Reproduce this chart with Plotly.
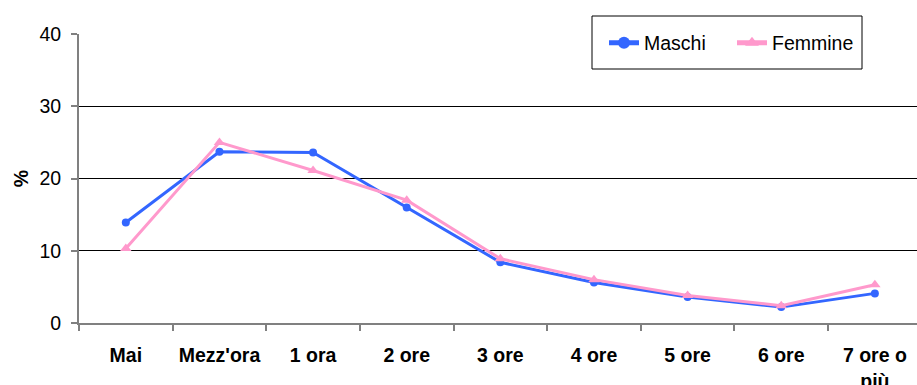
import plotly.graph_objects as go

categories = ["Mai", "Mezz'ora", "1 ora", "2 ore", "3 ore", "4 ore", "5 ore", "6 ore", "7 ore o<br>più"]
maschi = [13.9, 23.7, 23.6, 16.0, 8.4, 5.6, 3.6, 2.2, 4.1]
femmine = [10.3, 25.0, 21.1, 17.0, 8.9, 6.0, 3.8, 2.4, 5.3]
y_ticks = [0, 10, 20, 30, 40]

FONT = "Liberation Sans, Arial, sans-serif"
FS = 19.5

fig = go.Figure()
fig.add_trace(go.Scatter(
    x=categories, y=maschi, name="Maschi", mode="lines+markers",
    line=dict(color="#3366FF", width=3),
    marker=dict(symbol="circle", size=8, color="#3366FF"),
))
fig.add_trace(go.Scatter(
    x=categories, y=femmine, name="Femmine", mode="lines+markers",
    line=dict(color="#FF99CC", width=3),
    marker=dict(symbol="triangle-up", size=10, color="#FF99CC"),
))

L, T, B = 79, 34, 62
W, H = 917, 385
pw, ph = W - L, H - T - B

def px_to_paper_x(px):
    return (px - L) / pw

def px_to_paper_y(py):
    return (H - B - py) / ph

fig.add_shape(type="rect", xref="paper", yref="paper",
              x0=px_to_paper_x(592), x1=px_to_paper_x(862),
              y0=px_to_paper_y(69), y1=px_to_paper_y(16),
              line=dict(color="black", width=1), fillcolor="white", layer="above")

fig.update_layout(
    width=W, height=H,
    margin=dict(l=L, r=0, t=T, b=B, autoexpand=False),
    paper_bgcolor="white", plot_bgcolor="white",
    font=dict(family=FONT, size=FS, color="black"),
    showlegend=True,
    legend=dict(
        orientation="h", x=px_to_paper_x(604), xanchor="left",
        y=px_to_paper_y(43), yanchor="middle",
        bgcolor="rgba(0,0,0,0)", borderwidth=0,
        font=dict(family=FONT, size=FS, color="black"),
        entrywidth=83, entrywidthmode="pixels",
        itemsizing="constant",
    ),
    xaxis=dict(
        type="category", range=[-0.5, 8.45], automargin=False,
        tickson="boundaries", ticks="outside", ticklen=6, tickcolor="#808080", tickwidth=2,
        showline=True, linecolor="#808080", linewidth=2,
        showgrid=False, zeroline=False,
        tickfont=dict(family=FONT, size=FS, color="black", weight="bold"),
        ticklabelstandoff=14,
    ),
    yaxis=dict(
        range=[0, 40], tickvals=y_ticks, ticks="outside", ticklen=6, automargin=False,
        tickcolor="#808080", tickwidth=2,
        showline=True, linecolor="#808080", linewidth=2,
        showgrid=True, gridcolor="black", gridwidth=1, zeroline=False,
        tickfont=dict(family=FONT, size=FS, color="black"),
        ticklabelstandoff=6,
        title=dict(text="%", font=dict(family=FONT, size=FS, color="black", weight="bold"), standoff=6),
    ),
)

fig.write_html("out.html")
